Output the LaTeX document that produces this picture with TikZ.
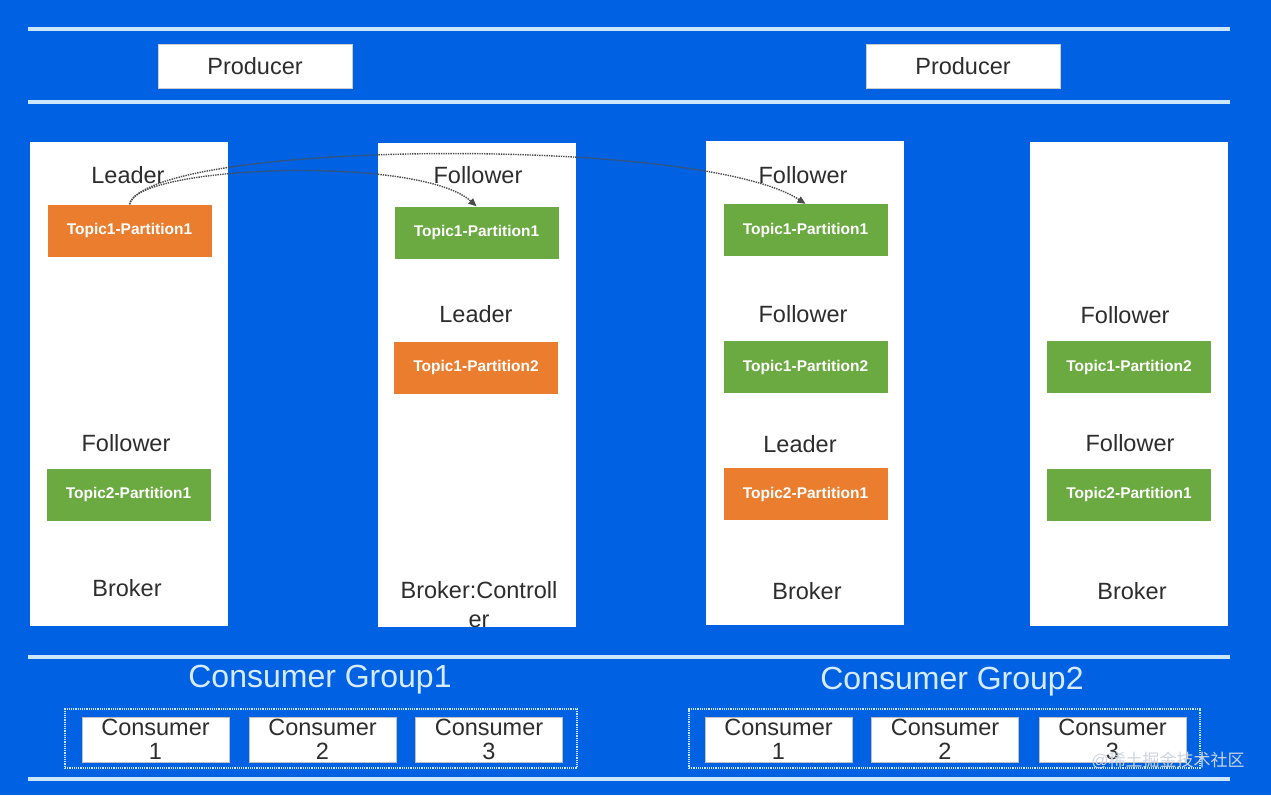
\documentclass[tikz,border=0pt]{standalone}
\usepackage{fontspec}
\setmainfont{Liberation Sans}
\newfontfamily\cjk{Noto Sans CJK SC}
\usetikzlibrary{arrows.meta}
\definecolor{bgblue}{RGB}{0,98,226}
\definecolor{rulelight}{RGB}{205,230,255}
\definecolor{txtgray}{RGB}{45,45,45}
\definecolor{leadorange}{RGB}{234,125,46}
\definecolor{follgreen}{RGB}{106,170,64}
\definecolor{grouptxt}{RGB}{215,235,255}
\definecolor{markgray}{RGB}{205,212,228}
\begin{document}
\begin{tikzpicture}[x=1pt, y=-1pt,
    lbl/.style={text=txtgray, inner sep=0pt, font=\fontsize{23.5}{29}\selectfont, align=center},
    part/.style={minimum width=164pt, minimum height=52pt, inner sep=0pt, text=white, font=\bfseries\fontsize{15.5}{18}\selectfont},
    lead/.style={part, fill=leadorange},
    foll/.style={part, fill=follgreen},
    broker/.style={fill=white, minimum width=198pt, minimum height=484pt, inner sep=0pt},
    prod/.style={fill=white, draw=gray!40, minimum width=194pt, minimum height=44pt, inner sep=0pt, text=txtgray, font=\fontsize{23.5}{28}\selectfont},
    cons/.style={fill=white, draw=gray!50, minimum width=147pt, minimum height=45pt, inner sep=0pt, text=txtgray, align=center, font=\fontsize{23.5}{24}\selectfont},
    grpbox/.style={draw=rulelight, densely dotted, line width=1.2pt, minimum width=512pt, minimum height=59pt, inner sep=0pt},
    grptxt/.style={text=grouptxt, font=\fontsize{32}{38}\selectfont},
    repl/.style={densely dotted, line width=1.4pt, draw=txtgray!85, -{Triangle[length=8pt,width=7pt]}}]
      % Background and rules
      \fill[bgblue] (0,0) rectangle (1271,795);
      \draw[rulelight, line width=3.5pt] (28,29) -- (1230,29);
      \draw[rulelight, line width=3.5pt] (28,102) -- (1230,102);
      \draw[rulelight, line width=3.5pt] (28,657) -- (1230,657);
      \draw[rulelight, line width=3.5pt] (28,779) -- (1230,779);

      % Producers
      \node[prod] at (255,66) (prod1) {Producer};
      \node[prod] at (963,66) (prod2) {Producer};

      % Brokers
      \node[broker] at (129,384) (broker1) {};
      \node[broker] at (477,384.5) (broker2) {};
      \node[broker] at (805,383) (broker3) {};
      \node[broker] at (1129,384) (broker4) {};

      % Broker 1
      \node[lbl] at (128,175) (b1role1) {Leader};
      \node[lead] at (129.5,230.5) (b1t1p1) {Topic1-Partition1};
      \node[lbl] at (126,443) (b1role2) {Follower};
      \node[foll] at (128.5,494.5) (b1t2p1) {Topic2-Partition1};
      \node[lbl] at (127,588) (b1name) {Broker};

      % Broker 2
      \node[lbl] at (478,175) (b2role1) {Follower};
      \node[foll] at (476.5,232.5) (b2t1p1) {Topic1-Partition1};
      \node[lbl] at (476,314) (b2role2) {Leader};
      \node[lead] at (476,367.5) (b2t1p2) {Topic1-Partition2};
      \node[lbl] at (479,605) (b2name) {Broker:Controll\\er};

      % Broker 3
      \node[lbl] at (803,175) (b3role1) {Follower};
      \node[foll] at (805.5,230) (b3t1p1) {Topic1-Partition1};
      \node[lbl] at (803,314) (b3role2) {Follower};
      \node[foll] at (805.5,367) (b3t1p2) {Topic1-Partition2};
      \node[lbl] at (800,444) (b3role3) {Leader};
      \node[lead] at (805.5,494) (b3t2p1) {Topic2-Partition1};
      \node[lbl] at (807,591) (b3name) {Broker};

      % Broker 4
      \node[lbl] at (1125,315) (b4role1) {Follower};
      \node[foll] at (1129,367) (b4t1p2) {Topic1-Partition2};
      \node[lbl] at (1130,443) (b4role2) {Follower};
      \node[foll] at (1129,494.5) (b4t2p1) {Topic2-Partition1};
      \node[lbl] at (1132,591) (b4name) {Broker};

      % Consumer groups
      \node[grptxt] at (320,680) (grp1) {Consumer Group1};
      \node[grpbox] at (321,738.5) (grp1box) {};
      \node[cons] at (155.5,739.5) (g1c1) {Consumer\\1};
      \node[cons] at (322.5,739.5) (g1c2) {Consumer\\2};
      \node[cons] at (489,739.5) (g1c3) {Consumer\\3};

      \node[grptxt] at (952,682) (grp2) {Consumer Group2};
      \node[grpbox, minimum width=511pt] at (944.5,738.5) (grp2box) {};
      \node[cons] at (778.5,739.5) (g2c1) {Consumer\\1};
      \node[cons] at (945,739.5) (g2c2) {Consumer\\2};
      \node[cons] at (1112.5,739.5) (g2c3) {Consumer\\3};

      % Replication
      \draw[repl] (b1t1p1.north) .. controls (135,165) and (420,155) .. (b2t1p1.north);
      \draw[repl] (b1t1p1.north) .. controls (150,140) and (700,135) .. (b3t1p1.north);

      \node[text=markgray, font=\fontsize{17}{20}\selectfont] at (1168,760) (mark) {@{\cjk 稀土掘金技术社区}};
    \end{tikzpicture}
\end{document}
